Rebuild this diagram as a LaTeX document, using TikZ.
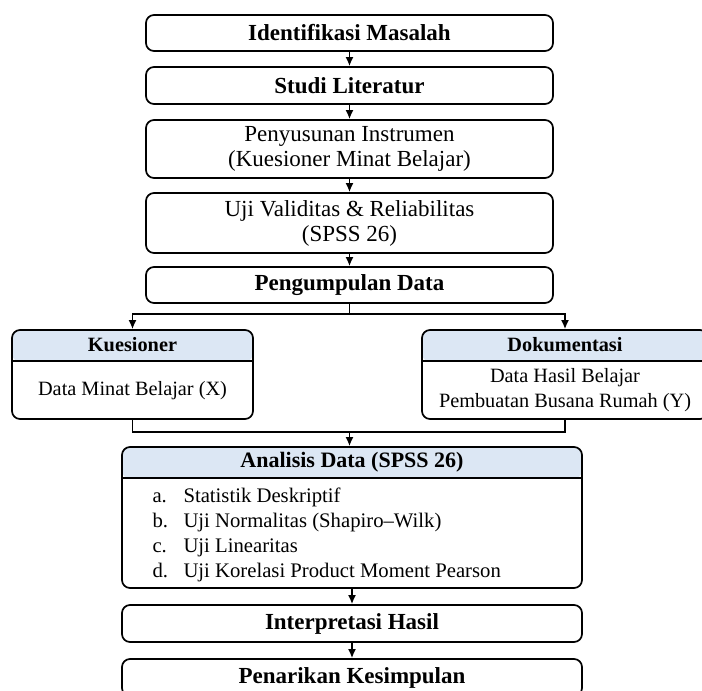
\documentclass[tikz,border=0pt]{standalone}
\usepackage{fontspec}
\setmainfont{Liberation Serif}
\usetikzlibrary{arrows.meta}

\definecolor{headblue}{RGB}{220,231,244}
\newcommand{\bigfont}{\fontsize{23}{25}\selectfont}
\newcommand{\headfont}{\fontsize{22}{25}\selectfont}
\newcommand{\smallfont}{\fontsize{20.3}{25}\selectfont}
\newcommand{\listfont}{\fontsize{20.7}{25}\selectfont}

\tikzset{
  stepbox/.style={draw, rounded corners=8pt, line width=1.7pt, align=center,
    inner sep=0pt, minimum width=407pt, font=\bigfont},
  boldbox/.style={stepbox, font=\bigfont\bfseries},
  widebox/.style={boldbox, minimum width=460pt},
  headbox/.style={draw, rounded corners=8pt, line width=1.7pt, inner sep=0pt,
    path picture={\fill[headblue] (path picture bounding box.north west)
      rectangle ([yshift=-31.5pt]path picture bounding box.north east);}},
  link/.style={line width=1.7pt},
  arr/.style={line width=1.7pt, -{Latex[length=9pt,width=8pt]}}
}

\begin{document}
\begin{tikzpicture}[x=1pt,y=-1pt]
        \useasboundingbox (0,0) rectangle (702,691);

        % main column
        \node[boldbox, minimum height=36pt] (ident) at (349.5,33) {Identifikasi Masalah};
        \node[boldbox, minimum height=37pt] (studi) at (349.5,85.5) {Studi Literatur};
        \node[stepbox, minimum height=58pt] (susun) at (349.5,149) {Penyusunan Instrumen\\(Kuesioner Minat Belajar)};
        \node[stepbox, minimum height=60pt] (uji) at (349.5,223) {Uji Validitas \& Reliabilitas\\(SPSS 26)};
        \node[boldbox, minimum height=36pt] (kumpul) at (349.5,285) {Pengumpulan Data};

        % two data sources
        \node[headbox, minimum width=241pt, minimum height=89pt] (kues) at (132.5,374.5) {};
        \node[font=\smallfont\bfseries] (kuesT) at ([yshift=-15.5pt]kues.north) {Kuesioner};
        \node[font=\smallfont] (kuesB) at (132.5,391) {Data Minat Belajar (X)};
        \draw[link] ([yshift=-31.5pt]kues.north west) -- ([yshift=-31.5pt]kues.north east);

        \node[headbox, minimum width=286pt, minimum height=89pt] (doku) at (565,374.5) {};
        \node[font=\smallfont\bfseries] (dokuT) at ([yshift=-15.5pt]doku.north) {Dokumentasi};
        \node[font=\smallfont, align=center] (dokuB) at (565,390.5) {Data Hasil Belajar\\Pembuatan Busana Rumah (Y)};
        \draw[link] ([yshift=-31.5pt]doku.north west) -- ([yshift=-31.5pt]doku.north east);

        % analysis
        \node[headbox, minimum width=460pt, minimum height=141pt] (anal) at (352,517.5) {};
        \node[font=\headfont\bfseries] (analT) at ([yshift=-16pt]anal.north) {Analisis Data (SPSS 26)};
        \node[font=\listfont, align=left, anchor=west] (analB) at (149,534.5) {%
                \makebox[31pt][l]{a.}Statistik Deskriptif\\
                \makebox[31pt][l]{b.}Uji Normalitas (Shapiro\textendash Wilk)\\
                \makebox[31pt][l]{c.}Uji Linearitas\\
                \makebox[31pt][l]{d.}Uji Korelasi Product Moment Pearson};
        \draw[link] ([yshift=-31.5pt]anal.north west) -- ([yshift=-31.5pt]anal.north east);

        \node[widebox, minimum height=37pt] (interp) at (352,623.5) {Interpretasi Hasil};
        \node[widebox, minimum height=37pt] (simpul) at (352,677.5) {Penarikan Kesimpulan};

        % connectors
        \draw[arr] (ident) -- (studi);
        \draw[arr] (studi) -- (susun);
        \draw[arr] (susun) -- (uji);
        \draw[arr] (uji) -- (kumpul);

        \coordinate (split) at (349.5,314);
        \draw[link] (kumpul) -- (split);
        \draw[arr] (split) -| (kues);
        \draw[arr] (split) -| (doku);

        \coordinate (merge) at (349.5,432);
        \draw[link] (kues) |- (merge);
        \draw[link] (doku) |- (merge);
        \draw[arr] (merge) -- (merge |- anal.north);

        \draw[arr] (anal) -- (interp);
        \draw[arr] (interp) -- (simpul);

    \end{tikzpicture}
\end{document}
